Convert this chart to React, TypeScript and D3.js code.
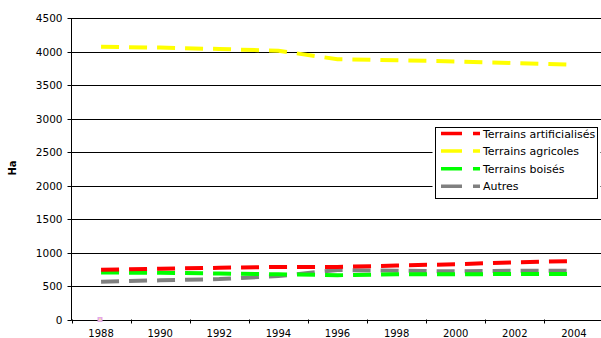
import React from "react";
import * as d3 from "d3";

const years = ["1988", "1990", "1992", "1994", "1996", "1998", "2000", "2002", "2004"];
const yTicks = [0, 500, 1000, 1500, 2000, 2500, 3000, 3500, 4000, 4500];

const artificialises = [743, 757, 772, 784, 784, 806, 825, 853, 873];
const agricoles = [4070, 4058, 4037, 4012, 3884, 3869, 3852, 3828, 3801];
const boises = [701, 697, 687, 675, 661, 675, 675, 679, 679];
const autres = [564, 585, 604, 649, 739, 728, 719, 728, 727];

const seriesNames = ["Terrains artificialisés", "Terrains agricoles", "Terrains boisés", "Autres"];
const seriesColors = ["#ff0000", "#ffff00", "#00ff00", "#808080"];
const seriesValues = [artificialises, agricoles, boises, autres];
const drawOrder = [1, 3, 2, 0];

const W = 601;
const H = 338;
const left = 71.5;
const right = 603.5;
const top = 18;
const bottom = 319.5;
const font = "'DejaVu Sans', Verdana, sans-serif";
const dash = "18 10";

export default function App() {
  const x = d3.scaleBand<string>().domain(years).range([left, right]).paddingInner(0).paddingOuter(0);
  const y = d3.scaleLinear().domain([0, 4500]).range([bottom, top]);
  const line = d3
    .line<number>()
    .x((_, i) => (x(years[i]) as number) + x.bandwidth() / 2)
    .y((d) => y(d));

  const boundaries = years.map((yr) => x(yr) as number);

  const legendX = 435.5;
  const legendY = 127.5;
  const legendW = 162;
  const legendH = 71;

  return (
    <svg width={W} height={H} style={{ position: "absolute", left: 0, top: 0, background: "#fff" }}>
      <rect x={0} y={0} width={W} height={H} fill="#fff" />
      {yTicks.map((t) => (
        <line key={"g" + t} x1={left} x2={W} y1={Math.round(y(t)) + 0.5} y2={Math.round(y(t)) + 0.5} stroke="#000" strokeWidth={1} />
      ))}
      {yTicks.map((t) => (
        <g key={"yt" + t}>
          <line x1={left - 4} x2={left} y1={Math.round(y(t)) + 0.5} y2={Math.round(y(t)) + 0.5} stroke="#000" />
          <text x={left - 9} y={y(t) + 4} textAnchor="end" fontFamily={font} fontSize={10.5} fill="#000">
            {t}
          </text>
        </g>
      ))}
      <line x1={left} x2={left} y1={top} y2={bottom + 1} stroke="#000" strokeWidth={1} />
      {boundaries.map((b, i) => (
        <line key={"xt" + i} x1={Math.round(b) + 0.5} x2={Math.round(b) + 0.5} y1={bottom} y2={bottom + 4} stroke="#000" />
      ))}
      {years.map((yr) => (
        <text
          key={"xl" + yr}
          x={(x(yr) as number) + x.bandwidth() / 2}
          y={337}
          textAnchor="middle"
          fontFamily={font}
          fontSize={10}
          fill="#000"
        >
          {yr}
        </text>
      ))}
      <text
        transform={`translate(16,168) rotate(-90)`}
        textAnchor="middle"
        fontFamily={font}
        fontSize={10}
        fontWeight="bold"
        fill="#000"
      >
        Ha
      </text>
      {drawOrder.map((si) => (
        <path
          key={"s" + si}
          d={line(seriesValues[si]) || ""}
          fill="none"
          stroke={seriesColors[si]}
          strokeWidth={4}
          strokeDasharray={dash}
        />
      ))}
      <g>
        <rect x={97.5} y={317} width={5} height={5} fill="#e4a8e8" />
        <rect x={99} y={318.5} width={2} height={2} fill="#f8e8a0" />
      </g>
      <rect x={legendX - 3} y={legendY - 2} width={legendW + 6} height={legendH + 4} fill="#fff" />
      <rect x={legendX} y={legendY} width={legendW} height={legendH} fill="#fff" stroke="#000" strokeWidth={1} />
      {seriesNames.map((n, i) => {
        const cy = legendY + 6 + i * 17.6;
        return (
          <g key={"lg" + i}>
            <line
              x1={441}
              x2={480}
              y1={cy}
              y2={cy}
              stroke={seriesColors[i]}
              strokeWidth={3.5}
              strokeDasharray="21 11"
            />
            <text x={483} y={cy + 4} fontFamily={font} fontSize={11} fill="#000">
              {n}
            </text>
          </g>
        );
      })}
    </svg>
  );
}
